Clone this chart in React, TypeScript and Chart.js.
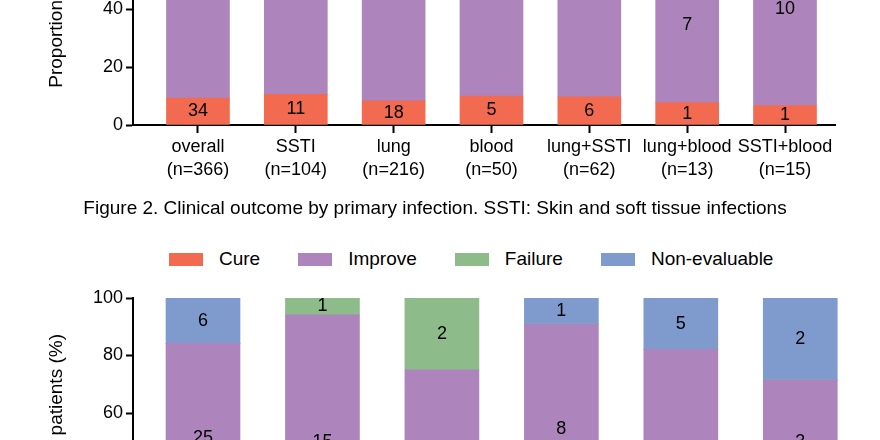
import React, { useEffect, useRef } from "react";
import { Chart, registerables } from "chart.js";

Chart.register(...registerables);

const FONT = "'Liberation Sans', Arial, Helvetica, sans-serif";

// Series (shared by both panels)
const seriesNames = ["Cure", "Improve", "Failure", "Non-evaluable"];
const seriesColors = ["#F26B50", "#AD85BC", "#8DBB89", "#7F9BCE"];

// Top panel: outcome counts by primary infection
const topCategories = ["overall", "SSTI", "lung", "blood", "lung+SSTI", "lung+blood", "SSTI+blood"];
const topNLabels = ["(n=366)", "(n=104)", "(n=216)", "(n=50)", "(n=62)", "(n=13)", "(n=15)"];
const topCure = [34, 11, 18, 5, 6, 1, 1];
const topImprove = [290, 82, 172, 35, 44, 7, 10];
const topFailure = [10, 2, 6, 3, 3, 1, 1];
const topNonEvaluable = [32, 9, 20, 7, 9, 4, 3];

// Bottom panel (categories below the visible area)
const bottomCategories = ["Group 1", "Group 2", "Group 3", "Group 4", "Group 5", "Group 6"];
const bottomCure = [7, 1, 0, 2, 2, 2];
const bottomImprove = [25, 15, 6, 8, 21, 3];
const bottomFailure = [0, 1, 2, 0, 0, 0];
const bottomNonEvaluable = [6, 0, 0, 1, 5, 2];

const yTicks = { min: 0, max: 100, step: 20 };
const yTitle = "Proportion of patients (%)";
const caption = "Figure 2. Clinical outcome by primary infection. SSTI: Skin and soft tissue infections";

function buildDatasets(series: number[][]) {
  const n = series[0].length;
  const totals = Array.from({ length: n }, (_, i) => series.reduce((s, arr) => s + arr[i], 0));
  return series.map((counts, si) => ({
    label: seriesNames[si],
    backgroundColor: seriesColors[si],
    borderWidth: 0,
    counts,
    data: counts.map((c, i) => ({ x: i, y: (c / totals[i]) * 100 })),
  }));
}

const valueLabelPlugin = {
  id: "valueLabels",
  afterDatasetsDraw(chart: any) {
    const ctx = chart.ctx;
    ctx.save();
    ctx.font = `18px ${FONT}`;
    ctx.fillStyle = "#000";
    ctx.textAlign = "center";
    ctx.textBaseline = "middle";
    chart.data.datasets.forEach((ds: any, di: number) => {
      const meta = chart.getDatasetMeta(di);
      meta.data.forEach((el: any, i: number) => {
        const c = ds.counts[i];
        if (!c) return;
        const p = el.getProps(["x", "y", "base"], true);
        ctx.fillText(String(c), p.x, (p.y + p.base) / 2);
      });
    });
    ctx.restore();
  },
};

function makeConfig(opts: {
  series: number[][];
  cats: string[];
  second?: string[];
  xMin: number;
  xMax: number;
  barPx: number;
  xHeight: number;
  padding: any;
}) {
  const { series, cats, second, xMin, xMax, barPx, xHeight, padding } = opts;
  const font = { family: FONT, size: 18, lineHeight: 1.25 };
  const titleFont = { family: FONT, size: 19, lineHeight: 1.2 };
  return {
    type: "bar",
    data: { datasets: buildDatasets(series) },
    plugins: [valueLabelPlugin],
    options: {
      responsive: false,
      animation: false,
      devicePixelRatio: 1,
      barThickness: barPx,
      layout: { padding },
      plugins: { legend: { display: false }, tooltip: { enabled: false }, title: { display: false } },
      scales: {
        x: {
          type: "linear",
          offset: false,
          min: xMin,
          max: xMax,
          stacked: true,
          afterBuildTicks: (s: any) => {
            s.ticks = cats.map((_, i) => ({ value: i }));
          },
          afterFit: (s: any) => {
            s.height = xHeight;
          },
          border: { display: true, color: "#000", width: 2 },
          grid: {
            offset: false,
            drawOnChartArea: false,
            drawTicks: true,
            tickLength: 8,
            tickWidth: 2,
            tickColor: "#000",
          },
          ticks: {
            autoSkip: false,
            maxRotation: 0,
            minRotation: 0,
            padding: 3,
            color: "#000",
            font,
            callback: (v: any) => {
              const i = Math.round(Number(v));
              return second ? [cats[i], second[i]] : cats[i];
            },
          },
        },
        y: {
          min: yTicks.min,
          max: yTicks.max,
          stacked: true,
          afterFit: (s: any) => {
            s.width = 133;
          },
          border: { display: true, color: "#000", width: 2 },
          grid: { drawOnChartArea: false, drawTicks: true, tickLength: 7, tickWidth: 2, tickColor: "#000" },
          ticks: { stepSize: yTicks.step, color: "#000", font, padding: 3 },
          title: { display: true, text: yTitle, color: "#000", font: titleFont, padding: { top: 45, bottom: 0 } },
        },
      },
    },
  };
}

export default function App() {
  const topRef = useRef<HTMLCanvasElement>(null);
  const bottomRef = useRef<HTMLCanvasElement>(null);

  useEffect(() => {
    const top = new Chart(
      topRef.current as HTMLCanvasElement,
      makeConfig({
        series: [topCure, topImprove, topFailure, topNonEvaluable],
        cats: topCategories,
        second: topNLabels,
        xMin: -0.664,
        xMax: 6.511,
        barPx: 63,
        xHeight: 75,
        padding: { top: 35, right: 45, left: 0, bottom: 0 },
      }) as any
    );
    const bottom = new Chart(
      bottomRef.current as HTMLCanvasElement,
      makeConfig({
        series: [bottomCure, bottomImprove, bottomFailure, bottomNonEvaluable],
        cats: bottomCategories,
        xMin: -0.586,
        xMax: 5.5,
        barPx: 74,
        xHeight: 104.5,
        padding: { top: 48, right: 20, left: 0, bottom: 0 },
      }) as any
    );
    return () => {
      top.destroy();
      bottom.destroy();
    };
  }, []);

  return (
    <div
      style={{
        position: "absolute",
        left: 0,
        top: 0,
        width: 880,
        height: 440,
        overflow: "hidden",
        background: "#fff",
        fontFamily: FONT,
        color: "#000",
      }}
    >
      <canvas
        ref={topRef}
        width={880}
        height={400}
        style={{ position: "absolute", left: 0, top: -200, width: 880, height: 400 }}
      />
      <div
        style={{
          position: "absolute",
          left: 0,
          top: 198,
          width: 870,
          textAlign: "center",
          fontSize: 19,
          lineHeight: "20px",
          whiteSpace: "nowrap",
        }}
      >
        {caption}
      </div>
      <div
        style={{
          position: "absolute",
          left: 169,
          top: 249,
          height: 20,
          display: "flex",
          alignItems: "center",
          gap: 38,
          fontSize: 19,
          lineHeight: "20px",
          whiteSpace: "nowrap",
        }}
      >
        {seriesNames.map((name, i) => (
          <div key={name} style={{ display: "flex", alignItems: "center" }}>
            <span
              style={{ display: "inline-block", width: 34, height: 13, background: seriesColors[i], marginRight: 16 }}
            />
            <span>{name}</span>
          </div>
        ))}
      </div>
      <canvas
        ref={bottomRef}
        width={880}
        height={440}
        style={{ position: "absolute", left: 0, top: 250, width: 880, height: 440 }}
      />
    </div>
  );
}
